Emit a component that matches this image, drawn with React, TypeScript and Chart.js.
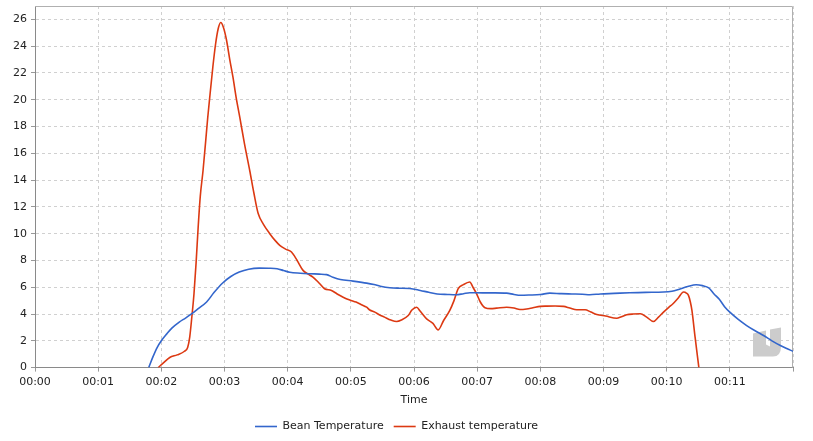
import React, { useEffect, useRef } from "react";
import { Chart, registerables } from "chart.js";

Chart.register(...registerables);

// Bean temperature: time (s) and value
const beanTimes = [108, 112, 116, 120, 125, 130, 137, 143, 148, 155, 163, 170, 178, 186, 194, 203, 213, 222, 230, 236, 242, 252, 261, 270, 277, 283, 290, 302, 315, 322, 328, 337, 346, 356, 366, 374, 382, 392, 400, 407, 413, 425, 437, 448, 455, 461, 470, 480, 489, 500, 510, 520, 527, 537, 550, 565, 580, 597, 605, 612, 620, 628, 634, 640, 645, 650, 655, 660, 668, 676, 684, 692, 700, 708, 714, 720];
const beanValues = [0, 0.8, 1.5, 2.0, 2.5, 2.95, 3.4, 3.7, 3.97, 4.4, 4.9, 5.6, 6.3, 6.8, 7.13, 7.35, 7.43, 7.42, 7.38, 7.25, 7.12, 7.05, 7.01, 6.98, 6.94, 6.75, 6.58, 6.46, 6.31, 6.2, 6.08, 5.96, 5.93, 5.91, 5.76, 5.62, 5.5, 5.46, 5.44, 5.52, 5.59, 5.58, 5.58, 5.56, 5.46, 5.4, 5.42, 5.46, 5.56, 5.52, 5.5, 5.48, 5.44, 5.5, 5.54, 5.59, 5.62, 5.64, 5.7, 5.85, 6.05, 6.19, 6.12, 5.95, 5.5, 5.1, 4.55, 4.14, 3.6, 3.14, 2.75, 2.4, 2.0, 1.65, 1.42, 1.22];

// Exhaust temperature: time (s) and value
const exhaustTimes = [117, 122, 128, 135, 142, 145, 147, 149, 151, 153, 155, 157, 159.6, 162, 164, 166, 169, 171.6, 174, 176.4, 179, 181.8, 185, 188, 191, 194.5, 199, 204, 208, 212, 217, 223, 228, 232.5, 238, 243.6, 249, 254.6, 259, 264, 270, 275, 281.6, 287, 292.7, 299, 305, 310, 315, 318, 322.8, 327, 332, 338, 343.5, 348, 354.5, 358, 362.5, 366, 372, 378, 383, 388, 394, 398, 402, 407, 413, 416, 419.5, 423, 427.4, 433, 438.5, 448, 455, 460.6, 467, 473, 480, 486, 494, 502, 508, 514.6, 522.5, 528, 533.6, 542, 552.6, 557, 562, 568, 575, 581, 587.4, 592, 597, 602, 606, 611, 616, 619, 620.7, 622.5, 624, 627, 630.6];
const exhaustValues = [0, 0.35, 0.75, 0.95, 1.22, 1.5, 2.3, 3.8, 5.5, 7.8, 10.5, 12.8, 14.7, 16.8, 18.6, 20.2, 22.5, 24.2, 25.3, 25.77, 25.4, 24.5, 23.0, 21.7, 20.2, 18.7, 16.7, 14.7, 13.0, 11.5, 10.7, 10.0, 9.5, 9.13, 8.85, 8.63, 8.0, 7.26, 7.0, 6.76, 6.3, 5.89, 5.76, 5.5, 5.26, 5.05, 4.89, 4.7, 4.51, 4.3, 4.14, 3.95, 3.77, 3.55, 3.44, 3.55, 3.89, 4.3, 4.51, 4.2, 3.64, 3.3, 2.82, 3.5, 4.27, 5.0, 5.89, 6.2, 6.39, 6.0, 5.51, 4.9, 4.47, 4.4, 4.44, 4.51, 4.45, 4.34, 4.38, 4.47, 4.57, 4.59, 4.6, 4.57, 4.45, 4.32, 4.32, 4.15, 3.97, 3.85, 3.69, 3.8, 3.94, 4.0, 4.02, 3.77, 3.44, 3.75, 4.14, 4.5, 4.77, 5.2, 5.64, 5.55, 5.39, 4.9, 4.27, 2.27, 0];

const seriesLabels = ["Bean Temperature", "Exhaust temperature"];
const xAxisTitle = "Time";

const FONT = "'DejaVu Sans', sans-serif";

function fmtTime(sec: number): string {
  const h = Math.floor(sec / 3600);
  const m = Math.floor((sec % 3600) / 60);
  return `${String(h).padStart(2, "0")}:${String(m).padStart(2, "0")}`;
}

const frameAndMark = {
  id: "frameAndMark",
  beforeDatasetsDraw(chart: any) {
    const { ctx, chartArea } = chart;
    const { left, top, right, bottom } = chartArea;
    ctx.save();
    ctx.strokeStyle = "#b0b0b0";
    ctx.lineWidth = 1;
    ctx.beginPath();
    ctx.moveTo(left, top + 0.5);
    ctx.lineTo(right - 0.5, top + 0.5);
    ctx.lineTo(right - 0.5, bottom);
    ctx.stroke();
    // watermark logo
    const ox = right - 40;
    const oy = bottom - 40;
    ctx.fillStyle = "#cccccc";
    ctx.beginPath();
    ctx.moveTo(ox + 0, oy + 6);
    ctx.lineTo(ox + 13, oy + 3);
    ctx.lineTo(ox + 13, oy + 17);
    ctx.lineTo(ox + 17, oy + 19);
    ctx.lineTo(ox + 17, oy + 2);
    ctx.lineTo(ox + 28, oy + 0);
    ctx.lineTo(ox + 28, oy + 19);
    ctx.quadraticCurveTo(ox + 28, oy + 29, ox + 20, oy + 29);
    ctx.lineTo(ox + 0, oy + 29);
    ctx.closePath();
    ctx.fill();
    ctx.restore();
  },
};

export default function App() {
  const ref = useRef<HTMLCanvasElement | null>(null);

  useEffect(() => {
    if (!ref.current) return;
    const bean = beanTimes.map((t, i) => ({ x: t, y: beanValues[i] }));
    const exhaust = exhaustTimes.map((t, i) => ({ x: t, y: exhaustValues[i] }));
    const chart = new Chart(ref.current, {
      type: "line",
      data: {
        datasets: [
          {
            label: seriesLabels[0],
            data: bean,
            borderColor: "#3366cc",
            backgroundColor: "#3366cc",
            borderWidth: 1.6,
            pointRadius: 0,
            cubicInterpolationMode: "monotone",
          },
          {
            label: seriesLabels[1],
            data: exhaust,
            borderColor: "#dc3912",
            backgroundColor: "#dc3912",
            borderWidth: 1.6,
            pointRadius: 0,
            cubicInterpolationMode: "monotone",
          },
        ],
      },
      options: {
        animation: false,
        responsive: true,
        maintainAspectRatio: false,
        layout: { padding: { top: 6, right: 20, left: 0, bottom: -1 } },
        plugins: {
          legend: {
            position: "bottom",
            labels: {
              usePointStyle: true,
              pointStyle: "line",
              pointStyleWidth: 22,
              boxHeight: 2,
              color: "#222",
              font: { family: FONT, size: 11 },
              padding: 10,
            },
          },
          tooltip: { enabled: false },
        },
        scales: {
          x: {
            type: "linear",
            min: 0,
            max: 720,
            ticks: {
              stepSize: 60,
              color: "#222",
              font: { family: FONT, size: 11 },
              padding: 4,
              maxRotation: 0,
              callback: (v: any) => (Number(v) >= 720 ? "" : fmtTime(Number(v))),
            },
            grid: { color: "#d0d0d0", tickLength: 4, tickColor: "#999" },
            border: { display: true, color: "#8a8a8a", dash: [3, 3] },
            title: {
              display: true,
              text: xAxisTitle,
              color: "#222",
              font: { family: FONT, size: 11 },
              padding: { top: 1, bottom: 4 },
            },
          },
          y: {
            min: 0,
            max: 27,
            afterFit: (s: any) => {
              s.width = 35;
              s.paddingTop = 0;
              s.paddingBottom = 0;
            },
            afterBuildTicks: (s: any) => {
              s.ticks = s.ticks.filter((t: any) => t.value % 2 === 0);
            },
            ticks: {
              stepSize: 2,
              color: "#222",
              font: { family: FONT, size: 11 },
              padding: 4,
            },
            grid: { color: "#d0d0d0", tickLength: 4, tickColor: "#999" },
            border: { display: true, color: "#8a8a8a", dash: [3, 3] },
          },
        },
      },
      plugins: [frameAndMark],
    });
    return () => chart.destroy();
  }, []);

  return (
    <div style={{ position: "fixed", left: 0, top: 0, width: 813, height: 441 }}>
      <canvas ref={ref} />
    </div>
  );
}
